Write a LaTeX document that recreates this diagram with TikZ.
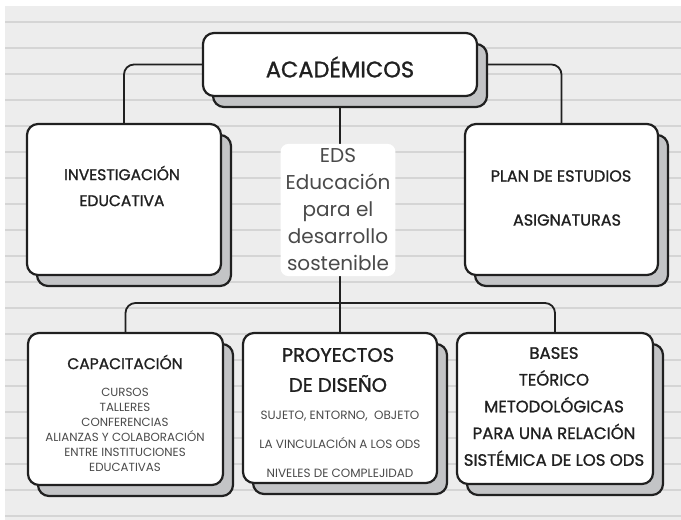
\documentclass[tikz,border=0pt]{standalone}
\usepackage{fontspec}
\setmainfont{Poppins}
\newfontfamily\headfont{Poppins}[FakeBold=1.2]
\usetikzlibrary{shadows}
\definecolor{paper}{HTML}{EDEDED}
\definecolor{rule}{HTML}{D5D5D5}
\definecolor{shade}{HTML}{C3C4C6}
\definecolor{ink}{HTML}{202020}
\definecolor{soft}{HTML}{4A4A4A}
\pgfdeclarelayer{sheet}
\pgfdeclarelayer{wires}
\pgfsetlayers{sheet,wires,main}
\begin{document}
\begin{tikzpicture}[x=1pt,y=-1pt,
  card/.style={draw=ink, line width=2.2pt, fill=white, rounded corners=11pt,
    copy shadow={fill=shade, draw=ink, line width=2.2pt, shadow xshift=10pt, shadow yshift=-11pt}},
  link/.style={draw=ink, line width=1.8pt, rounded corners=10pt},
  head/.style={text=ink, align=center},
  small/.style={text=soft, align=center}]
\useasboundingbox (0,0) rectangle (681,520);
\begin{pgfonlayer}{sheet}
\fill[white] (0,0) rectangle (681,520);
\fill[paper] (5,6) rectangle (681,520);
\foreach \ry in {22,48,...,516}
  \draw[rule, line width=1.3pt] (5,\ry) -- (681,\ry);
\end{pgfonlayer}

\node[card, minimum width=274pt, minimum height=63pt] (acad) at (340,64.5) {};
\node[card, minimum width=194pt, minimum height=151pt] (inv) at (124,199.5) {};
\node[card, minimum width=193pt, minimum height=151pt] (plan) at (561.5,199.5) {};
\node[card, minimum width=195pt, minimum height=152pt] (cap) at (125.5,409) {};
\node[card, minimum width=194pt, minimum height=150pt] (proy) at (340,408) {};
\node[card, minimum width=196pt, minimum height=151pt] (bases) at (555,408.5) {};
\coordinate (hub) at (340,303);

\begin{pgfonlayer}{wires}
\path[link] (acad.west) -| (inv.north);
\path[link] (acad.east) -| (plan.north);
\path[link] (acad.south) -- (proy.north);
\path[link] (hub) -| (cap.north);
\path[link] (hub) -| (bases.north);
\end{pgfonlayer}

\node[fill=white, rounded corners=8pt, inner sep=5pt, text=soft, align=center,
  font=\fontsize{20}{27}\selectfont] (eds) at (338,210)
  {EDS\\Educación\\para el\\desarrollo\\sostenible};

\node[head, font=\headfont\fontsize{22.5}{24}\selectfont] (acadtxt) at (340,67) {ACADÉMICOS};
\node[head, font=\headfont\fontsize{15.5}{26}\selectfont] (invtxt) at (122,186) {INVESTIGACIÓN\\EDUCATIVA};
\node[head, font=\headfont\fontsize{16}{16}\selectfont] (plantxt) at (561,176) {PLAN DE ESTUDIOS};
\node[head, font=\headfont\fontsize{16}{16}\selectfont] (asigtxt) at (567,220) {ASIGNATURAS};
\node[head, font=\headfont\fontsize{15.5}{18}\selectfont] (captxt) at (125,362) {CAPACITACIÓN};
\node[small, font=\fontsize{11.8}{15}\selectfont] (caplist) at (125,429.5)
  {CURSOS\\TALLERES\\CONFERENCIAS\\ALIANZAS Y COLABORACIÓN\\ENTRE INSTITUCIONES\\EDUCATIVAS};
\node[head, font=\headfont\fontsize{19.5}{30}\selectfont] (proytxt) at (338,370) {PROYECTOS\\DE DISEÑO};
\node[small, font=\fontsize{12}{29}\selectfont] (proylist) at (340,444)
  {SUJETO, ENTORNO,\ \ OBJETO\\LA VINCULACIÓN A LOS ODS\\NIVELES DE COMPLEJIDAD};
\node[head, font=\headfont\fontsize{16.5}{26.75}\selectfont] (basestxt) at (554,406.5)
  {BASES\\TEÓRICO\\METODOLÓGICAS\\PARA UNA RELACIÓN\\SISTÉMICA DE LOS ODS};
\end{tikzpicture}
\end{document}
